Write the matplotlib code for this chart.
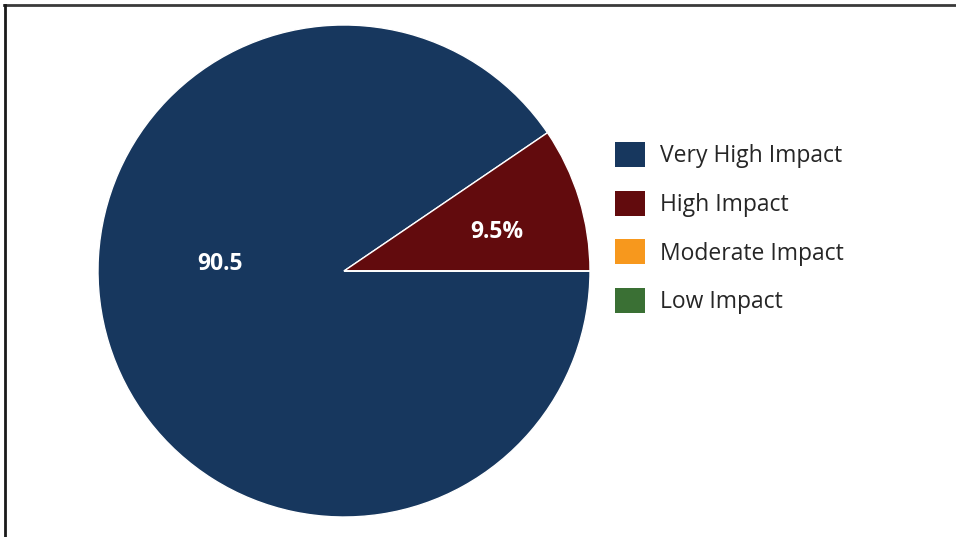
import matplotlib.pyplot as plt
from matplotlib.lines import Line2D
from matplotlib.patches import Patch

# data
categories = ['Very High Impact', 'High Impact', 'Moderate Impact', 'Low Impact']
shares = [90.5, 9.5, 0, 0]
slice_labels = ['90.5', '9.5%', '', '']
colors = ['#17375e', '#620b0d', '#f7981d', '#3a7034']

plt.rcParams['font.family'] = ['Open Sans', 'DejaVu Sans']

W, H = 956, 537
cx, cy, r = 344, 271, 246  # pie centre and radius in pixels

fig = plt.figure(figsize=(W / 100, H / 100), dpi=100)
ax = fig.add_axes([0, 0, 1, 1])

wedges, _ = ax.pie(shares, colors=colors, startangle=0, counterclock=False,
                   radius=1, wedgeprops=dict(edgecolor='white', linewidth=1))

# pie() resets the limits, so set them afterwards
ax.set_xlim(-cx / r, (W - cx) / r)
ax.set_ylim(-(H - cy) / r, cy / r)
ax.set_aspect('equal')
ax.axis('off')

# slice labels
label_pos = [(-0.504, 0.03), (0.62, 0.16)]
for (x, y), txt in zip(label_pos, slice_labels):
    ax.text(x, y, txt, color='white', fontsize=16.5, fontweight='bold',
            ha='center', va='center')

# legend
handles = [Patch(facecolor=c, edgecolor='none') for c in colors]
ax.legend(handles, categories, loc='upper left',
          bbox_to_anchor=(606 / W, 1 - 133 / H), bbox_transform=fig.transFigure,
          frameon=False, fontsize=16.5, handlelength=1.3, handleheight=1.3,
          handletextpad=0.65, labelspacing=0.98, borderaxespad=0,
          labelcolor='#262626')

# border on top and left edge
fig.add_artist(Line2D([4 / W, 1], [1 - 4.5 / H, 1 - 4.5 / H], color='#3a3a3a', lw=2,
                      transform=fig.transFigure))
fig.add_artist(Line2D([4.5 / W, 4.5 / W], [0, 1 - 4.5 / H], color='#1a1a1a', lw=2,
                      transform=fig.transFigure))

fig.savefig('out.png', dpi=100)
